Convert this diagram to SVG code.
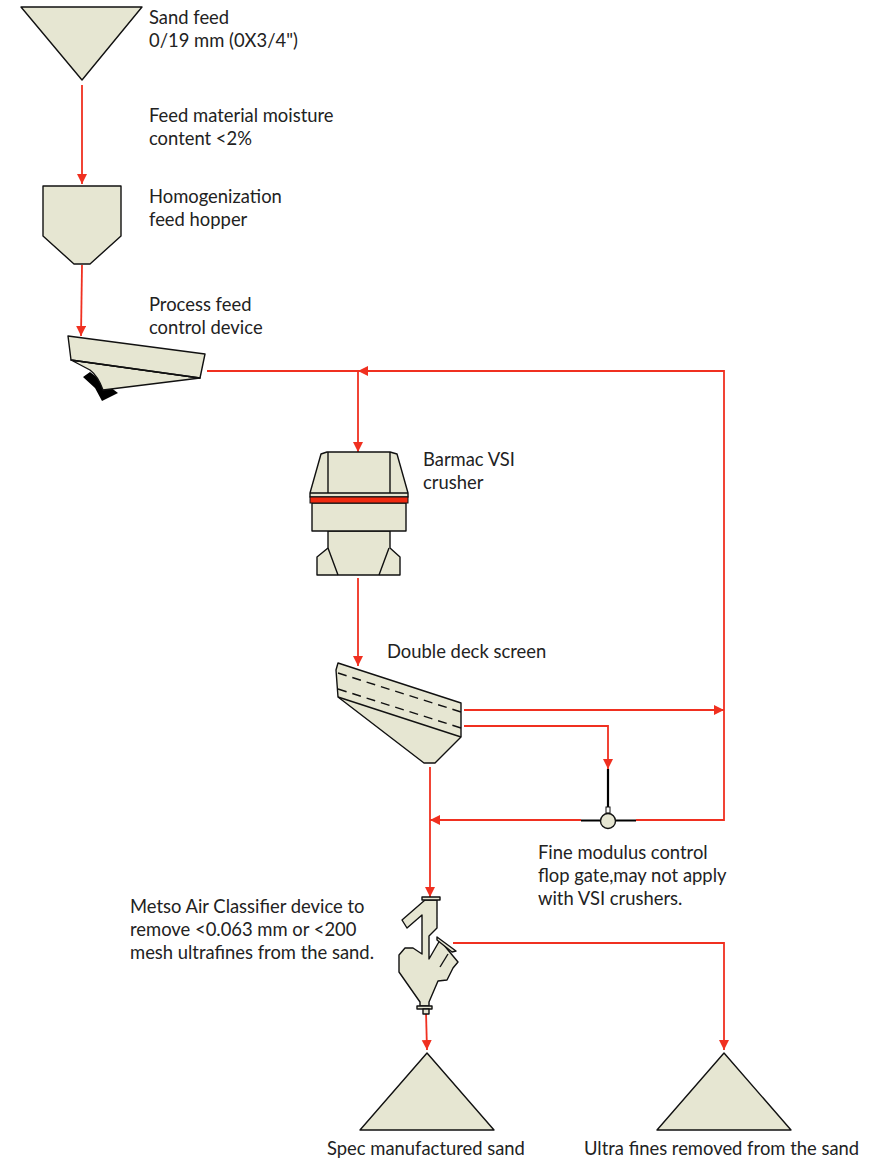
<svg xmlns="http://www.w3.org/2000/svg" width="886" height="1160" viewBox="0 0 886 1160">
<style>
.s{fill:#e6e6d2;stroke:#111;stroke-width:1.4;stroke-linejoin:round}
.l{fill:none;stroke:#111;stroke-width:1.4}
.c{fill:none;stroke:#f03020;stroke-width:1.8}
text{font-family:"Lato","Liberation Sans",sans-serif;font-size:18.400px;fill:#222}
</style>
<defs><marker id="a" markerUnits="userSpaceOnUse" markerWidth="12" markerHeight="12" refX="10" refY="5" orient="auto"><path d="M0 0L10 5L0 10Z" fill="#f03020"/></marker></defs>
<rect width="886" height="1160" fill="#fff"/>
<g id="connectors">
<path class="c" marker-end="url(#a)" d="M82 85L82 184"/>
<path class="c" marker-end="url(#a)" d="M82 265L81 336"/>
<path class="c" d="M207 371L358 371"/>
<path class="c" marker-end="url(#a)" d="M358 371L358 452"/>
<path class="c" marker-end="url(#a)" d="M358 578L358 666"/>
<path class="c" marker-end="url(#a)" d="M464 710L724 710"/>
<path class="c" marker-end="url(#a)" d="M464 726L608 726L608 769"/>
<path class="c" marker-end="url(#a)" d="M636 820L724 820L724 371L358 371"/>
<path class="c" marker-end="url(#a)" d="M581 820L430 820"/>
<path class="c" marker-end="url(#a)" d="M430 767L430 897"/>
<path class="c" marker-end="url(#a)" d="M453 943L724 943L724 1050"/>
<path class="c" marker-end="url(#a)" d="M426 1012L427 1050"/>
</g>
<g id="sand-feed"><path class="s" d="M21 7L142 7L82 80Z"/><text x="149" y="24">Sand feed</text><text x="149" y="47">0/19 mm (0X3/4")</text></g>
<g id="moisture"><text x="149" y="122">Feed material moisture</text><text x="149" y="145">content &lt;2%</text></g>
<g id="hopper"><path class="s" d="M43 186L121 186L121 236L90 264L74 264L43 236Z"/><text x="149" y="203">Homogenization</text><text x="149" y="226">feed hopper</text></g>
<g id="feed-control">
<path fill="#000" d="M83 377L90 372L118 393L102 401L95 388Z"/>
<path class="s" d="M71 360L90 370Q98 376 103 390L200 378Z"/>
<path class="s" d="M68 336L205 354L200 378L71 360Z"/>
<path class="l" stroke-width="2" d="M71 360L200 378"/>
<text x="149" y="311">Process feed</text><text x="149" y="334">control device</text></g>
<g id="vsi-crusher">
<path class="s" d="M328 531H390V548L400 557V575H317V557L328 548Z"/>
<path class="l" d="M328 548L338 575M389 548L379 575"/>
<path class="s" d="M312 503H406V531H312Z"/>
<path class="s" d="M310 493L321 454L327 452H390L397 454L408 493V497H310Z"/>
<path class="l" d="M310 493H408M390 452V493"/><path class="l" stroke-width="2" d="M328 452V493"/>
<rect x="310" y="497" width="98" height="6" fill="#f02a10" stroke="#111" stroke-width="1"/>
<text x="423" y="466">Barmac VSI</text><text x="423" y="489">crusher</text></g>
<g id="screen">
<path class="s" d="M338 663L461 703V737L435 763H424L338 697L336 670Z"/>
<path class="l" d="M338 697L461 737"/>
<path class="l" stroke-dasharray="9 6" d="M338 673L461 712M338 689L461 728"/>
<text x="387" y="658">Double deck screen</text></g>
<g id="flop-gate">
<path fill="none" stroke="#000" stroke-width="2.200" d="M608 769V807M581 820.500H600M616 820.500H636"/>
<rect x="606" y="807" width="4" height="6" fill="#fff" stroke="#111" stroke-width="1"/>
<circle class="s" cx="608" cy="821" r="7.500"/>
<text x="538" y="859">Fine modulus control</text><text x="538" y="882">flop gate,may not apply</text><text x="538" y="905">with VSI crushers.</text></g>
<g id="air-classifier">
<path class="s" d="M425 900L437 900V928L429 936V959L440 940L448 950L458 962L453 968L447 980L438 981L429 1002V1006H420V1002L399 972V955L405 948H413L422 954V915L407 928L402 920Z"/>
<path class="s" d="M437 937L456 951L452 952L437 940Z"/>
<path class="l" stroke-width="2" d="M440 967L448 954"/>
<rect class="s" x="422" y="897" width="18" height="3"/>
<rect class="s" x="417" y="1006" width="15" height="3"/>
<rect class="s" x="423" y="1009" width="6" height="5" fill="#fff"/>
<text x="130" y="913">Metso Air Classifier device to</text><text x="130" y="936">remove &lt;0.063 mm or &lt;200</text><text x="130" y="959">mesh ultrafines from the sand.</text></g>
<g id="spec-sand"><path class="s" d="M360 1130H494L427 1053Z"/><text x="327" y="1155">Spec manufactured sand</text></g>
<g id="ultra-fines"><path class="s" d="M657 1130H791L724 1053Z"/><text x="584" y="1155">Ultra fines removed from the sand</text></g>
</svg>
